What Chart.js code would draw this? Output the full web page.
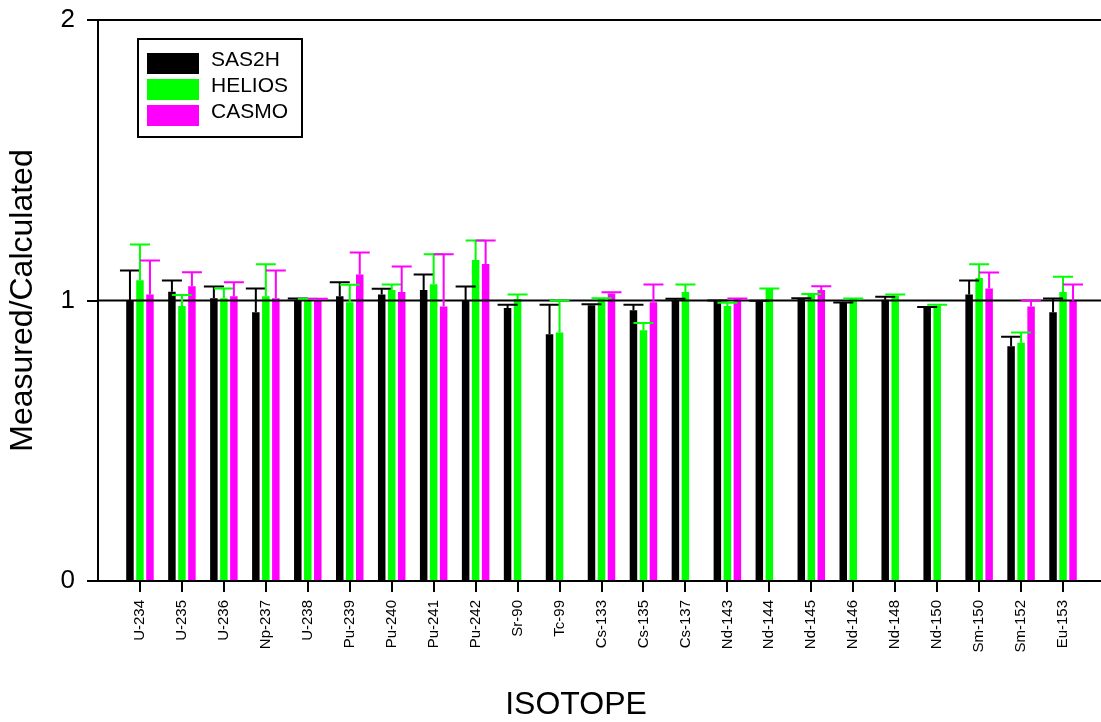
<!DOCTYPE html>
<html>
<head>
<meta charset="utf-8">
<script src="https://cdn.jsdelivr.net/npm/chart.js@4/dist/chart.umd.min.js"></script>
<style>
  html, body { margin: 0; padding: 0; background: #fff; overflow: hidden; }
</style>
</head>
<body>
<canvas id="chart" width="1106" height="722"></canvas>
<script>
var isotopes = ['U-234', 'U-235', 'U-236', 'Np-237', 'U-238', 'Pu-239', 'Pu-240', 'Pu-241', 'Pu-242', 'Sr-90', 'Tc-99', 'Cs-133', 'Cs-135', 'Cs-137', 'Nd-143', 'Nd-144', 'Nd-145', 'Nd-146', 'Nd-148', 'Nd-150', 'Sm-150', 'Sm-152', 'Eu-153'];

var sas2h    = [0.998, 1.031, 1.008, 0.958, 1.003, 1.015, 1.021, 1.037, 0.998, 0.973, 0.880, 0.983, 0.965, 0.999, 0.998, 0.997, 1.007, 0.992, 1.003, 0.974, 1.021, 0.837, 0.958];
var sas2hTop = [1.107, 1.071, 1.050, 1.043, 1.007, 1.065, 1.042, 1.093, 1.050, 0.985, 0.985, 0.987, 0.985, 1.006, 1.000, 0.999, 1.008, 0.993, 1.013, 0.977, 1.071, 0.871, 1.007];

var helios    = [1.072, 0.980, 1.008, 1.015, 1.003, 0.994, 1.037, 1.058, 1.144, 1.005, 0.886, 1.005, 0.894, 1.030, 0.980, 1.042, 1.020, 1.005, 1.018, 0.982, 1.080, 0.849, 1.030];
var heliosTop = [1.200, 1.020, 1.043, 1.129, 1.006, 1.056, 1.057, 1.165, 1.214, 1.021, 1.000, 1.008, 0.920, 1.057, 0.992, 1.043, 1.023, 1.007, 1.021, 0.985, 1.129, 0.886, 1.085];

var casmo    = [1.021, 1.051, 1.015, 1.008, 1.003, 1.093, 1.030, 0.979, 1.130, null, null, 1.025, 0.994, null, 1.005, null, 1.037, null, null, null, 1.043, 0.979, 0.999];
var casmoTop = [1.143, 1.101, 1.065, 1.107, 1.006, 1.171, 1.121, 1.165, 1.214, null, null, 1.029, 1.057, null, 1.007, null, 1.051, null, null, null, 1.100, 1.000, 1.057];

var yTicks = [0, 1, 2];

// one empty slot on each side so the first and last bars sit one step in from the frame
function pad(arr) { return [null].concat(arr, [null]); }
var labels = [''].concat(isotopes, ['']);

var errorBars = {
  id: 'errorBars',
  afterDatasetsDraw: function (chart) {
    var ctx = chart.ctx;
    var x = chart.scales.x;
    var y = chart.scales.y;
    var area = chart.chartArea;

    ctx.save();
    ctx.strokeStyle = '#000';
    ctx.lineWidth = 2;

    // reference line at 1
    ctx.beginPath();
    ctx.moveTo(area.left, y.getPixelForValue(1));
    ctx.lineTo(area.right, y.getPixelForValue(1));
    ctx.stroke();

    // tick marks under each isotope
    ctx.beginPath();
    for (var k = 1; k < labels.length - 1; k++) {
      var px = Math.round(x.getPixelForTick(k));
      ctx.moveTo(px, area.bottom);
      ctx.lineTo(px, area.bottom + 11);
    }
    ctx.stroke();

    chart.data.datasets.forEach(function (ds, i) {
      var meta = chart.getDatasetMeta(i);
      ctx.strokeStyle = ds.backgroundColor;
      meta.data.forEach(function (bar, j) {
        var top = ds.errTop[j];
        if (top == null || ds.data[j] == null) return;
        var yt = y.getPixelForValue(top);
        ctx.beginPath();
        ctx.moveTo(bar.x, bar.y);
        ctx.lineTo(bar.x, yt);
        ctx.moveTo(bar.x - 10, yt);
        ctx.lineTo(bar.x + 10, yt);
        ctx.stroke();
      });
    });

    // top frame line
    ctx.strokeStyle = '#000';
    ctx.beginPath();
    ctx.moveTo(area.left, area.top);
    ctx.lineTo(area.right, area.top);
    ctx.stroke();
    ctx.restore();
  },
  afterDraw: function (chart) {
    var ctx = chart.ctx;
    ctx.save();
    // legend box
    ctx.strokeStyle = '#000';
    ctx.lineWidth = 2;
    ctx.strokeRect(138, 39, 164, 98);
    ctx.font = '21px Arial, "Liberation Sans", sans-serif';
    ctx.textBaseline = 'middle';
    ctx.textAlign = 'left';
    chart.data.datasets.forEach(function (ds, i) {
      var top = 53 + i * 26;
      ctx.fillStyle = ds.backgroundColor;
      ctx.fillRect(147, top, 52, 21);
      ctx.fillStyle = '#000';
      ctx.fillText(ds.label, 211, top + 7);
    });
    // x axis title
    ctx.font = '32px Arial, "Liberation Sans", sans-serif';
    ctx.textAlign = 'center';
    ctx.textBaseline = 'alphabetic';
    ctx.fillText('ISOTOPE', 576, 714);
    ctx.restore();
  }
};

new Chart(document.getElementById('chart'), {
  type: 'bar',
  data: {
    labels: labels,
    datasets: [
      { label: 'SAS2H', data: pad(sas2h), errTop: pad(sas2hTop), backgroundColor: '#000000' },
      { label: 'HELIOS', data: pad(helios), errTop: pad(heliosTop), backgroundColor: '#00ff00' },
      { label: 'CASMO', data: pad(casmo), errTop: pad(casmoTop), backgroundColor: '#ff00ff' }
    ]
  },
  options: {
    responsive: false,
    animation: false,
    events: [],
    categoryPercentage: 0.715,
    barPercentage: 0.75,
    layout: { padding: { top: 20, right: 1, left: 0, bottom: 0 } },
    plugins: {
      legend: { display: false },
      tooltip: { enabled: false }
    },
    scales: {
      x: {
        offset: false,
        grid: { display: false, tickLength: 11 },
        border: { display: true, color: '#000', width: 2 },
        ticks: {
          autoSkip: false,
          maxRotation: 90,
          minRotation: 90,
          padding: 8,
          color: '#000',
          font: { family: 'Arial, "Liberation Sans", sans-serif', size: 15 }
        },
        afterFit: function (s) {
          s.height = 141;
          s.paddingLeft = 0;
          s.paddingRight = 0;
        }
      },
      y: {
        min: 0,
        max: 2,
        afterBuildTicks: function (s) { s.ticks = yTicks.map(function (v) { return { value: v }; }); },
        grid: { drawOnChartArea: false, tickLength: 11, lineWidth: 2, color: '#000' },
        border: { color: '#000', width: 2 },
        ticks: {
          padding: 12,
          color: '#000',
          font: { family: 'Arial, "Liberation Sans", sans-serif', size: 26 }
        },
        title: {
          display: true,
          text: 'Measured/Calculated',
          color: '#000',
          padding: { top: 4, bottom: 0 },
          font: { family: 'Arial, "Liberation Sans", sans-serif', size: 32, weight: 'normal' }
        },
        afterFit: function (s) {
          s.width = 98;
          s.paddingTop = 0;
          s.paddingBottom = 0;
        }
      }
    }
  },
  plugins: [errorBars]
});
</script>
</body>
</html>
